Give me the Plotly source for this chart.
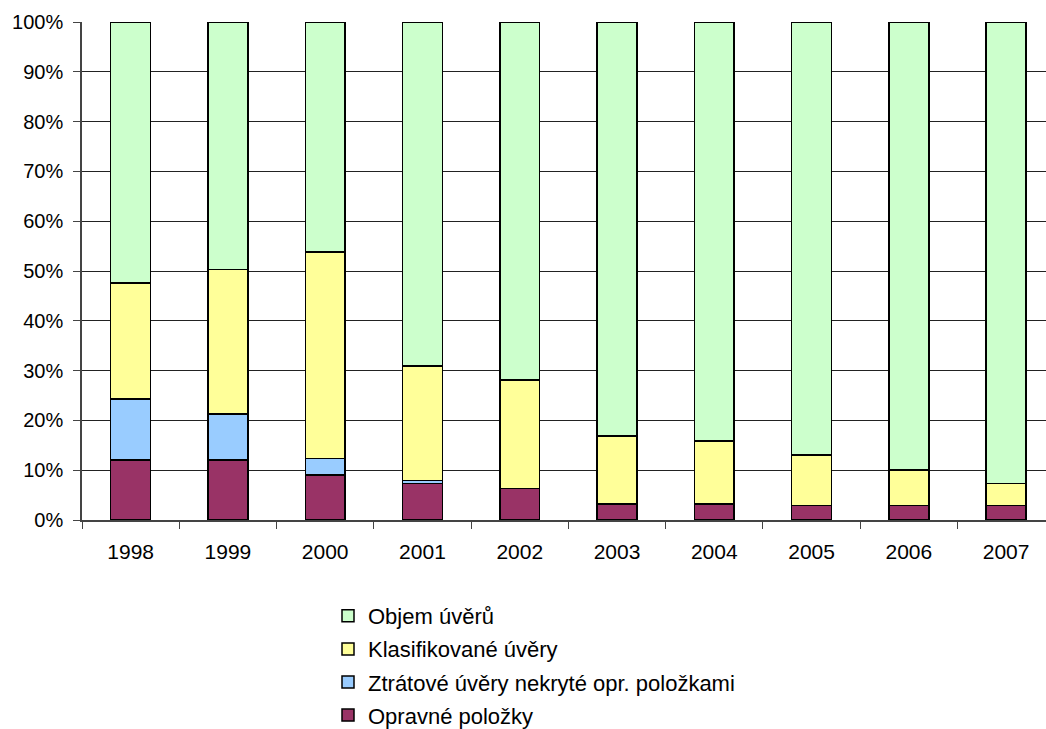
import plotly.graph_objects as go

years = ["1998", "1999", "2000", "2001", "2002", "2003", "2004", "2005", "2006", "2007"]

# Shares in percent, stacked bottom to top
opravne = [12.0, 12.0, 9.0, 7.3, 6.3, 3.2, 3.2, 2.9, 2.9, 2.9]
ztratove = [12.3, 9.3, 3.4, 0.6, 0.0, 0.0, 0.0, 0.0, 0.0, 0.0]
klasifikovane = [23.3, 29.0, 41.4, 23.0, 21.8, 13.7, 12.7, 10.2, 7.1, 4.4]
objem = [52.4, 49.7, 46.2, 69.1, 71.9, 83.1, 84.1, 86.9, 90.0, 92.7]

series = [
    ("Opravné položky", opravne, "#993366"),
    ("Ztrátové úvěry nekryté opr. položkami", ztratove, "#99CCFF"),
    ("Klasifikované úvěry", klasifikovane, "#FFFF99"),
    ("Objem úvěrů", objem, "#CCFFCC"),
]

fig = go.Figure()
for i, (name, vals, color) in enumerate(series):
    fig.add_trace(go.Bar(
        x=years, y=vals, name=name, width=0.41,
        legendgroup=f"g{i}", legendrank=1000 - i,
        marker=dict(color=color, line=dict(color="#000000", width=1.5)),
    ))

family = "Liberation Sans, Arial, sans-serif"
font = dict(family=family, size=20, color="#000000")

fig.update_layout(
    barmode="stack",
    width=1046, height=729,
    margin=dict(l=82, r=0, t=22, b=209, autoexpand=False),
    paper_bgcolor="white", plot_bgcolor="white",
    font=font,
    showlegend=True,
    legend=dict(
        traceorder="grouped",
        xref="container", yref="container",
        x=328 / 1046, y=1 - 595 / 729, xanchor="left", yanchor="top",
        font=dict(family=family, size=22, color="#000000"),
        tracegroupgap=1.5,
        bgcolor="rgba(0,0,0,0)",
    ),
    xaxis=dict(
        type="category", range=[-0.5, 9.41],
        showline=True, linecolor="#444444", linewidth=1.5,
        ticks="outside", tickson="boundaries", ticklen=7, tickcolor="#444444",
        showgrid=False, tickfont=dict(family=family, size=21, color="#000000"),
        tickangle=0, ticklabelstandoff=12,
    ),
    yaxis=dict(
        range=[0, 100], dtick=10, ticksuffix="%",
        showline=True, linecolor="#444444", linewidth=1.5,
        ticks="outside", ticklen=7, tickcolor="#444444",
        showgrid=True, gridcolor="#222222", gridwidth=1,
        zeroline=False, tickfont=font, ticklabelstandoff=6,
    ),
)

fig.write_html("out.html")
